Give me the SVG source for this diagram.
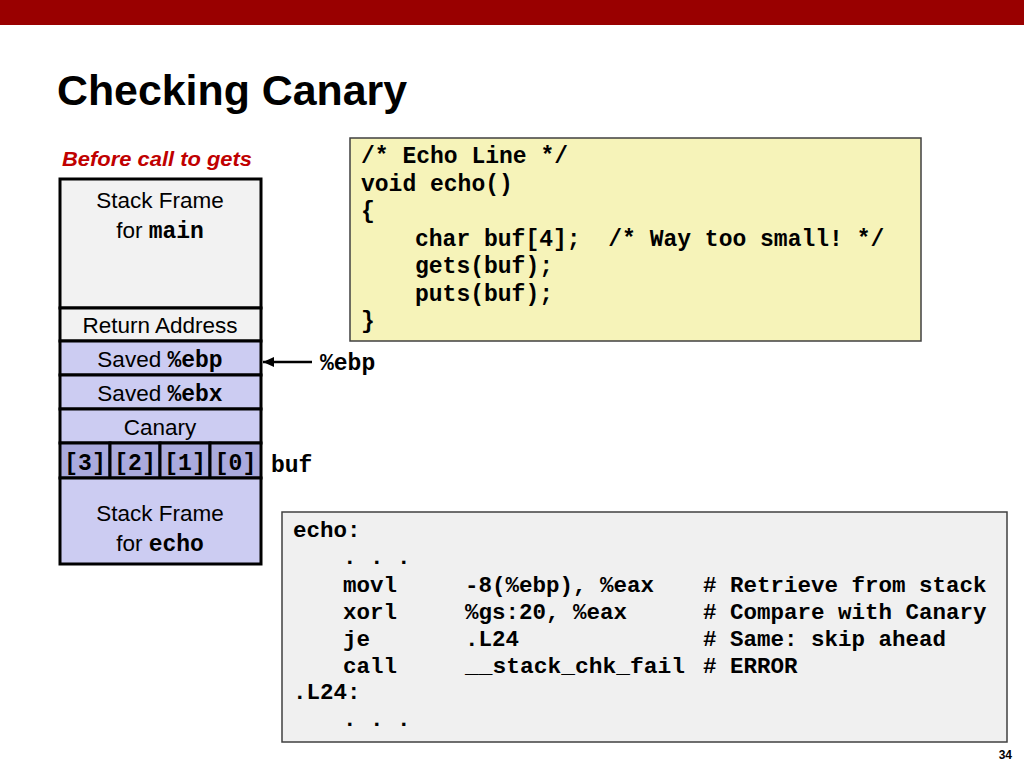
<svg xmlns="http://www.w3.org/2000/svg" width="1024" height="768" viewBox="0 0 1024 768">
<defs>
<style>
text{white-space:pre}
.sans{font-family:"Liberation Sans","Open Sans",sans-serif;font-size:22.5px;fill:#000}
.mono{font-family:"Liberation Mono","Courier New",monospace;font-weight:bold;fill:#000}
.cell{stroke:#000;stroke-width:3}
.gray{fill:#f2f2f2}
.lav{fill:#ccccf2}
.dlav{fill:#aaaadd}
</style>
<marker id="ah" markerWidth="11" markerHeight="10" refX="11" refY="5" orient="auto" markerUnits="userSpaceOnUse">
<path d="M0,0 L11,5 L0,10 z" fill="#000"/>
</marker>
</defs>
<rect x="0" y="0" width="1024" height="768" fill="#fff"/>
<rect x="0" y="0" width="1024" height="25" fill="#990000"/>
<text x="57" y="105" font-family="Liberation Sans, Open Sans, sans-serif" font-weight="bold" font-size="42" textLength="350" lengthAdjust="spacingAndGlyphs">Checking Canary</text>
<text x="62" y="166" font-family="Liberation Sans, Open Sans, sans-serif" font-weight="bold" font-style="italic" font-size="20" fill="#c00000" textLength="190" lengthAdjust="spacingAndGlyphs">Before call to gets</text>

<g id="stack">
<rect class="cell gray" x="60" y="179" width="201" height="129"/>
<text class="sans" x="160" y="208" text-anchor="middle">Stack Frame</text>
<text class="sans" x="160" y="238" text-anchor="middle">for <tspan class="mono" font-size="23">main</tspan></text>
<rect class="cell gray" x="60" y="308" width="201" height="33"/>
<text class="sans" x="160" y="333" text-anchor="middle">Return Address</text>
<rect class="cell lav" x="60" y="341" width="201" height="34"/>
<text class="sans" x="160" y="367" text-anchor="middle">Saved <tspan class="mono" font-size="23">%ebp</tspan></text>
<rect class="cell lav" x="60" y="375" width="201" height="34"/>
<text class="sans" x="160" y="401" text-anchor="middle">Saved <tspan class="mono" font-size="23">%ebx</tspan></text>
<rect class="cell lav" x="60" y="409" width="201" height="34"/>
<text class="sans" x="160" y="435" text-anchor="middle">Canary</text>
<rect class="cell dlav" x="60" y="443" width="50" height="35"/>
<rect class="cell dlav" x="110" y="443" width="50" height="35"/>
<rect class="cell dlav" x="160" y="443" width="50" height="35"/>
<rect class="cell dlav" x="210" y="443" width="51" height="35"/>
<text class="mono" font-size="23" x="85" y="470" text-anchor="middle">[3]</text>
<text class="mono" font-size="23" x="135" y="470" text-anchor="middle">[2]</text>
<text class="mono" font-size="23" x="185" y="470" text-anchor="middle">[1]</text>
<text class="mono" font-size="23" x="235.5" y="470" text-anchor="middle">[0]</text>
<rect class="cell lav" x="60" y="478" width="201" height="86"/>
<text class="sans" x="160" y="521" text-anchor="middle">Stack Frame</text>
<text class="sans" x="160" y="551" text-anchor="middle">for <tspan class="mono" font-size="23">echo</tspan></text>
</g>

<g id="connectors">
<line x1="312" y1="362" x2="263" y2="362" stroke="#000" stroke-width="2.5" marker-end="url(#ah)"/>
</g>
<g id="labels">
<text class="mono" font-size="23" x="320" y="370">%ebp</text>
<text class="mono" font-size="23" x="271" y="472">buf</text>
</g>

<g id="ccode">
<rect x="350" y="138" width="571" height="203" fill="#f6f3b9" stroke="#404040" stroke-width="1.5"/>
<g class="mono" font-size="23">
<text x="361" y="163">/* Echo Line */</text>
<text x="361" y="191">void echo()</text>
<text x="361" y="218">{</text>
<text x="415" y="246">char buf[4];  /* Way too small! */</text>
<text x="415" y="273">gets(buf);</text>
<text x="415" y="301">puts(buf);</text>
<text x="361" y="328">}</text>
</g>
</g>

<g id="asm">
<rect x="282" y="512" width="725" height="230" fill="#f0f0f0" stroke="#404040" stroke-width="1.5"/>
<g class="mono" font-size="22.5">
<text x="293" y="537">echo:</text>
<text x="343" y="564">. . .</text>
<text x="343" y="592">movl</text>
<text x="465" y="592">-8(%ebp), %eax</text>
<text x="703" y="592"># Retrieve from stack</text>
<text x="343" y="619">xorl</text>
<text x="465" y="619">%gs:20, %eax</text>
<text x="703" y="619"># Compare with Canary</text>
<text x="343" y="646">je</text>
<text x="465" y="646">.L24</text>
<text x="703" y="646"># Same: skip ahead</text>
<text x="343" y="673">call</text>
<text x="465" y="673" textLength="220" lengthAdjust="spacingAndGlyphs">__stack_chk_fail</text>
<text x="703" y="673"># ERROR</text>
<text x="293" y="699">.L24:</text>
<text x="343" y="726">. . .</text>
</g>
</g>
<text x="1012" y="759" text-anchor="end" font-family="Liberation Sans, sans-serif" font-weight="bold" font-size="12">34</text>
</svg>
